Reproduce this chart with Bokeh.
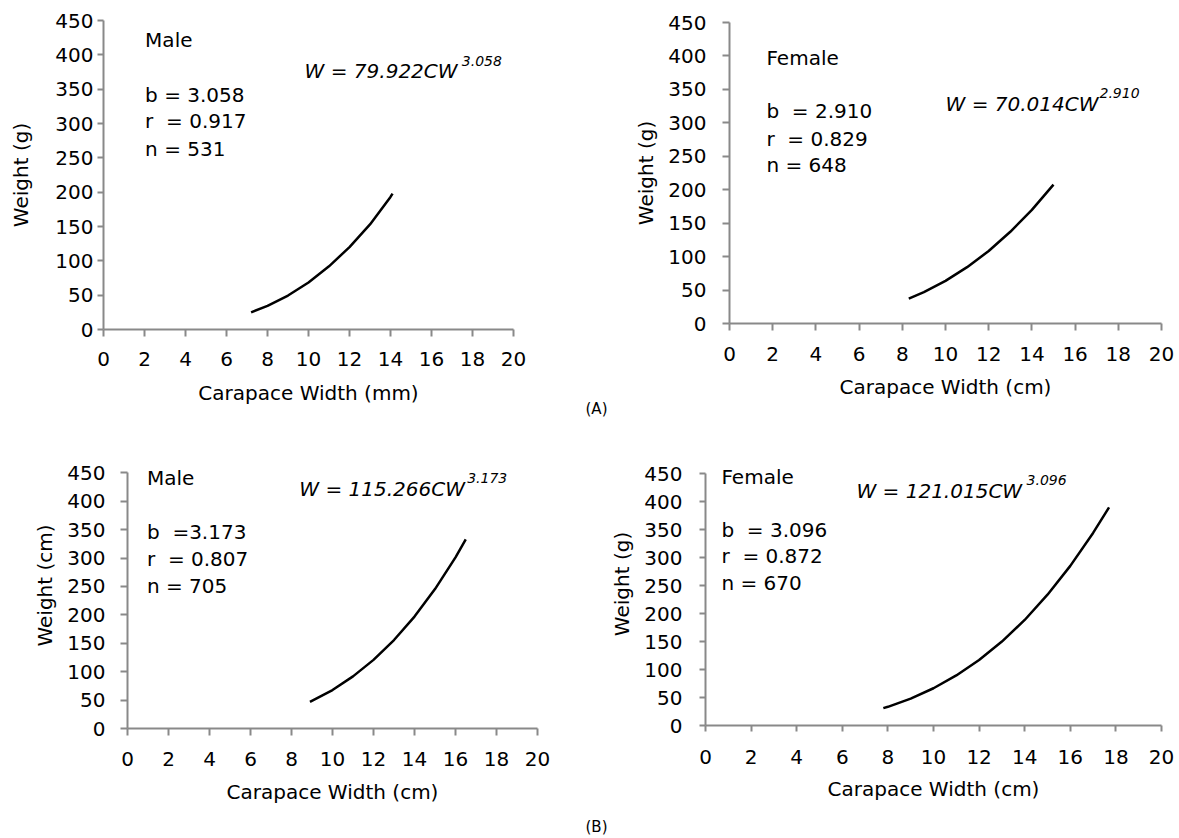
from bokeh.plotting import figure
from bokeh.models import Range1d, FixedTicker, Label
from bokeh.layouts import column, row
from bokeh.embed import file_html
from bokeh.resources import INLINE

# ---------------- data ----------------
x_ticks = [0, 2, 4, 6, 8, 10, 12, 14, 16, 18, 20]
y_ticks = [0, 50, 100, 150, 200, 250, 300, 350, 400, 450]

# (A) Male
a_male_cw = [7.2, 8, 9, 10, 11, 12, 13, 14, 14.1]
a_male_w = [25, 34.5, 49.5, 68.5, 92, 120, 153, 193, 198]
# (A) Female
a_female_cw = [8.3, 9, 10, 11, 12, 13, 14, 15]
a_female_w = [37.3, 46.9, 63.8, 84.2, 108.4, 137.1, 169.9, 207.6]
# (B) Male
b_male_cw = [8.9, 10, 11, 12, 13, 14, 15, 16, 16.5]
b_male_w = [47, 67.7, 91.7, 120.8, 155.7, 197, 245.3, 301.2, 333]
# (B) Female
b_female_cw = [7.8, 8, 9, 10, 11, 12, 13, 14, 15, 16, 17, 17.7]
b_female_w = [31, 33.4, 48.1, 66.6, 89.5, 117.1, 150.1, 188.7, 233.9, 285.4, 344.3, 390]

NB = "\u00a0"
a_male_stats = ["Male", "b = 3.058", "r" + NB + " = 0.917", "n = 531"]
a_male_eq = ["W = 79.922CW", "3.058"]
a_female_stats = ["Female", "b" + NB + " = 2.910", "r" + NB + " = 0.829", "n = 648"]
a_female_eq = ["W = 70.014CW", "2.910"]
b_male_stats = ["Male", "b" + NB + " =3.173", "r" + NB + " = 0.807", "n = 705"]
b_male_eq = ["W = 115.266CW", "3.173"]
b_female_stats = ["Female", "b" + NB + " = 3.096", "r" + NB + " = 0.872", "n = 670"]
b_female_eq = ["W = 121.015CW", "3.096"]
part_labels = ["(A)", "(B)"]

FONT = "DejaVu Sans"
AXIS_COLOR = "#898989"


def make_panel(w, h, left, right, top, bottom, ytop, xlabel, ylabel,
               y_tick_out, y_standoff, y_label_standoff,
               x_tick_out, x_standoff, x_label_standoff,
               cw, wt, stats, stats_x, stats_y, eq, eq_pos, sup_pos):
    p = figure(width=w, height=h, x_range=Range1d(0, 20), y_range=Range1d(0, ytop),
               output_backend="svg", toolbar_location=None,
               min_border_left=left, min_border_right=right,
               min_border_top=top, min_border_bottom=bottom)
    p.grid.visible = False
    p.outline_line_color = None
    p.background_fill_color = "white"
    p.border_fill_color = "white"
    p.xaxis.ticker = FixedTicker(ticks=x_ticks)
    p.yaxis.ticker = FixedTicker(ticks=y_ticks)
    p.yaxis.bounds = (0, 450)
    p.xaxis.axis_label = xlabel
    p.yaxis.axis_label = ylabel
    for ax in (p.xaxis[0], p.yaxis[0]):
        ax.axis_line_color = AXIS_COLOR
        ax.axis_line_width = 2
        ax.major_tick_line_color = AXIS_COLOR
        ax.major_tick_line_width = 2
        ax.major_tick_in = 0
        ax.minor_tick_line_color = None
        ax.major_label_text_font = FONT
        ax.major_label_text_font_size = "20px"
        ax.major_label_text_color = "black"
        ax.axis_label_text_font = FONT
        ax.axis_label_text_font_size = "20px"
        ax.axis_label_text_font_style = "normal"
        ax.axis_label_text_color = "black"
    p.yaxis.major_tick_out = y_tick_out
    p.yaxis.major_label_standoff = y_standoff
    p.yaxis.axis_label_standoff = y_label_standoff
    p.xaxis.major_tick_out = x_tick_out
    p.xaxis.major_label_standoff = x_standoff
    p.xaxis.axis_label_standoff = x_label_standoff

    p.line(cw, wt, line_color="black", line_width=2.5)

    for txt, yy in zip(stats, stats_y):
        p.add_layout(Label(x=stats_x, y=yy, text=txt, text_font=FONT,
                           text_font_size="20px", text_color="black",
                           text_baseline="middle", text_align="left"))
    p.add_layout(Label(x=eq_pos[0], y=eq_pos[1], text=eq[0], text_font=FONT,
                       text_font_size="20px", text_font_style="italic",
                       text_color="black", text_baseline="middle", text_align="left"))
    p.add_layout(Label(x=sup_pos[0], y=sup_pos[1], text=eq[1], text_font=FONT,
                       text_font_size="14px", text_font_style="italic",
                       text_color="black", text_baseline="middle", text_align="left"))
    return p


def make_strip(h, y_top_px, txt, center_px):
    # thin blank plot between the two panels of a row, in page pixel units
    s = figure(width=27, height=h, x_range=Range1d(580, 607),
               y_range=Range1d(y_top_px + h, y_top_px),
               output_backend="svg", toolbar_location=None,
               min_border_left=0, min_border_right=0, min_border_top=0, min_border_bottom=0)
    s.axis.visible = False
    s.grid.visible = False
    s.outline_line_color = None
    s.background_fill_color = "white"
    s.border_fill_color = "white"
    s.add_layout(Label(x=596, y=center_px, text=txt, text_font=FONT, text_font_size="15px",
                       text_color="black", text_baseline="middle", text_align="center"))
    return s


# top row (y 0..440)
p1 = make_panel(580, 440, 103, 67, 20, 111, 450, "Carapace Width (mm)", "Weight (g)",
                6, 4, 19, 7, 15, 12,
                a_male_cw, a_male_w, a_male_stats, 2.03, [421.3, 341.3, 303.5, 262.7],
                a_male_eq, (9.81, 376.2), (17.48, 390.8))
sA = make_strip(440, 0, part_labels[0], 408)
p2 = make_panel(572, 440, 122, 18, 22, 117, 450, "Carapace Width (cm)", "Weight (g)",
                7, 16, 7, 7, 16, 11,
                a_female_cw, a_female_w, a_female_stats, 1.71, [396.9, 317.2, 276.5, 236.6],
                a_female_eq, (10.0, 328.7), (17.13, 344.7))

# bottom row (y 440..838)
p3 = make_panel(580, 398, 127, 43, 2, 110, 503.3, "Carapace Width (cm)", "Weight (cm)",
                7, 15, 7, 7, 16, 11,
                b_male_cw, b_male_w, b_male_stats, 0.95, [441.2, 346.2, 298.0, 250.4],
                b_male_eq, (8.38, 421.2), (16.57, 440.0))
sB = make_strip(398, 440, part_labels[1], 826)
p4 = make_panel(572, 398, 98, 18, 2, 113, 506.0, "Carapace Width (cm)", "Weight (g)",
                6, 17, 7, 6, 18, 10,
                b_female_cw, b_female_w, b_female_stats, 0.70, [445.2, 349.2, 302.2, 253.9],
                b_female_eq, (6.62, 418.9), (14.08, 438.6))

# each plot wrapped on its own so that the row does not align their frames
layout = column(row(column(p1), column(sA), column(p2)),
                row(column(p3), column(sB), column(p4)))
open("out.html", "w").write(file_html(layout, INLINE))
